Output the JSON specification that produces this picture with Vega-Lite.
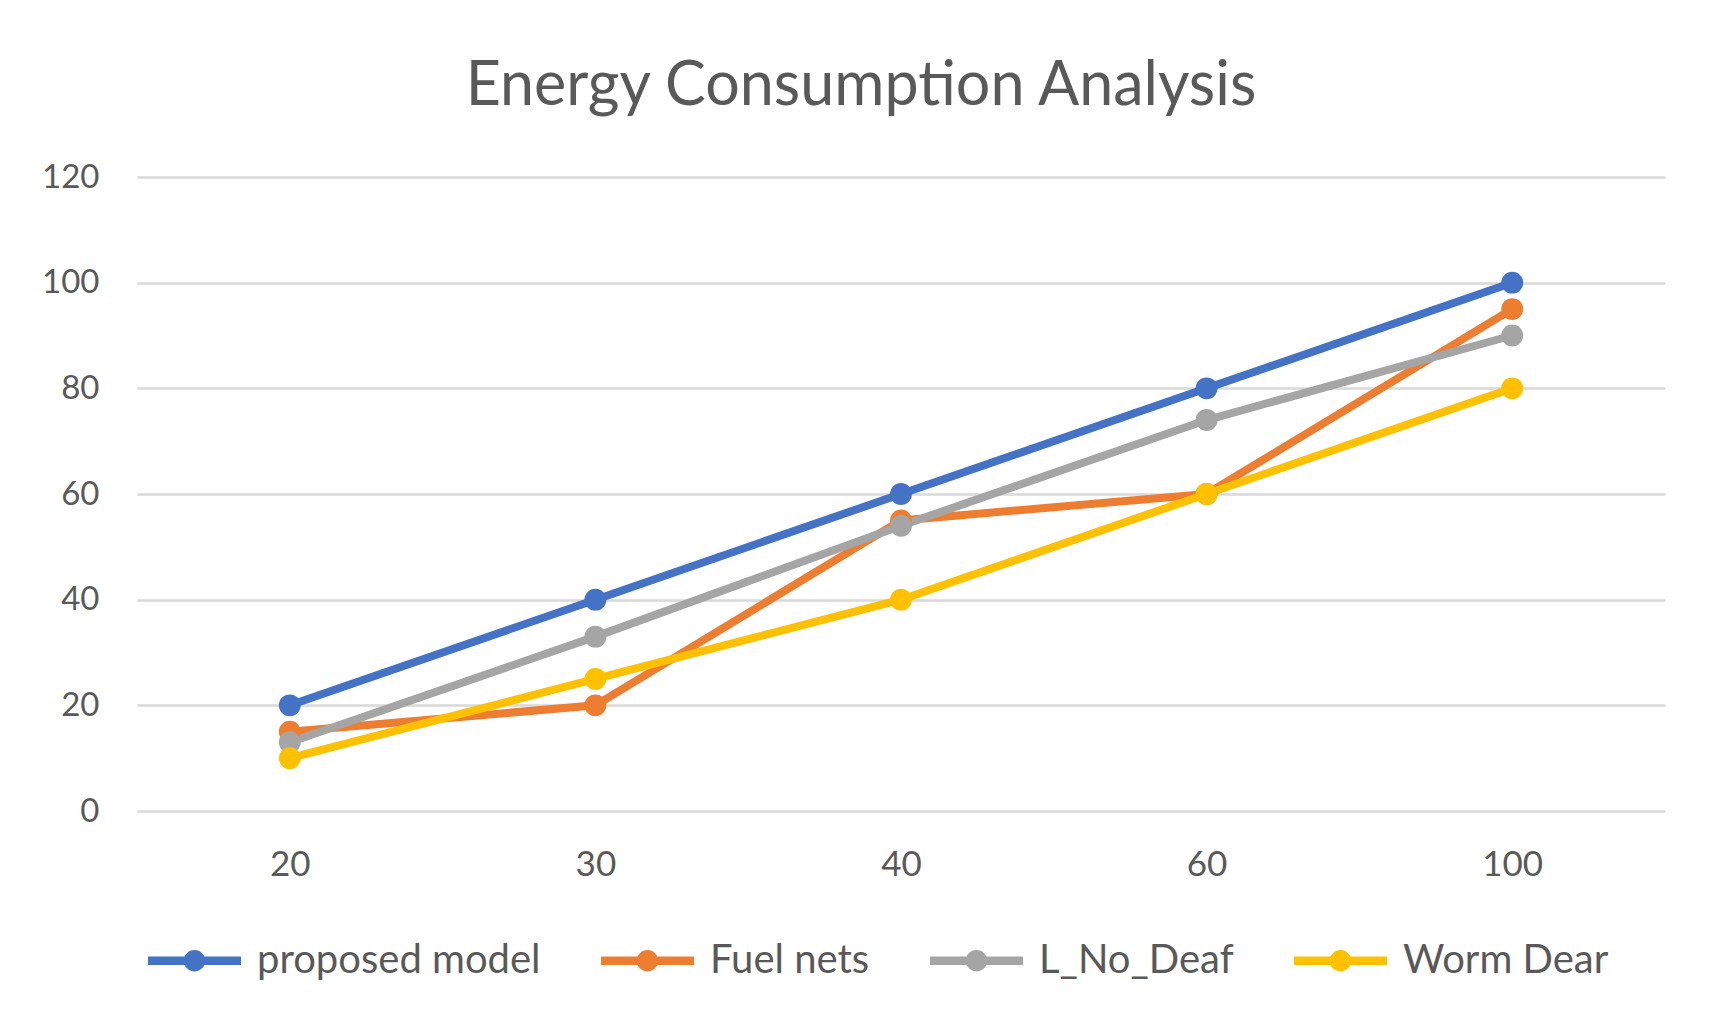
{
  "$schema": "https://vega.github.io/schema/vega-lite/v6.json",
  "autosize": {"type": "none"},
  "width": 1528,
  "height": 634,
  "padding": {"left": 137, "top": 177, "right": 51, "bottom": 220},
  "background": "white",
  "config": {
    "font": "Lato",
    "view": {"stroke": null},
    "axis": {"labelColor": "#595959", "labelFont": "Lato"},
    "legend": {"labelColor": "#595959", "labelFont": "Lato"}
  },
  "title": {
    "text": "Energy Consumption Analysis",
    "fontSize": 61,
    "font": "Lato",
    "fontWeight": "normal",
    "color": "#595959",
    "anchor": "middle",
    "dx": -40,
    "offset": 43
  },
  "data": {
    "values": [
      {"x": 20, "series": "proposed model", "v": 20},
      {"x": 30, "series": "proposed model", "v": 40},
      {"x": 40, "series": "proposed model", "v": 60},
      {"x": 60, "series": "proposed model", "v": 80},
      {"x": 100, "series": "proposed model", "v": 100},
      {"x": 20, "series": "Fuel nets", "v": 15},
      {"x": 30, "series": "Fuel nets", "v": 20},
      {"x": 40, "series": "Fuel nets", "v": 55},
      {"x": 60, "series": "Fuel nets", "v": 60},
      {"x": 100, "series": "Fuel nets", "v": 95},
      {"x": 20, "series": "L_No_Deaf", "v": 13},
      {"x": 30, "series": "L_No_Deaf", "v": 33},
      {"x": 40, "series": "L_No_Deaf", "v": 54},
      {"x": 60, "series": "L_No_Deaf", "v": 74},
      {"x": 100, "series": "L_No_Deaf", "v": 90},
      {"x": 20, "series": "Worm Dear", "v": 10},
      {"x": 30, "series": "Worm Dear", "v": 25},
      {"x": 40, "series": "Worm Dear", "v": 40},
      {"x": 60, "series": "Worm Dear", "v": 60},
      {"x": 100, "series": "Worm Dear", "v": 80}
    ]
  },
  "encoding": {
    "x": {
      "field": "x",
      "type": "ordinal",
      "sort": "ascending",
      "axis": {
        "title": null,
        "labelAngle": 0,
        "labelFontSize": 35,
        "labelPadding": 36,
        "domain": false,
        "ticks": false,
        "grid": false
      }
    },
    "y": {
      "field": "v",
      "type": "quantitative",
      "scale": {"domain": [0, 120], "nice": false},
      "axis": {
        "title": null,
        "values": [0, 20, 40, 60, 80, 100, 120],
        "labelFontSize": 33,
        "labelPadding": 38,
        "domain": false,
        "ticks": false,
        "grid": true,
        "gridColor": "#D9D9D9",
        "gridWidth": 2.5
      }
    },
    "color": {
      "field": "series",
      "type": "nominal",
      "scale": {
        "domain": ["proposed model", "Fuel nets", "L_No_Deaf", "Worm Dear"],
        "range": ["#4472C4", "#ED7D31", "#A5A5A5", "#FFC000"]
      },
      "legend": {
        "title": null,
        "orient": "none",
        "direction": "horizontal",
        "columns": 4,
        "legendX": 11,
        "legendY": 737,
        "labelFontSize": 40,
        "labelLimit": 0,
        "labelOffset": 16,
        "columnPadding": 60,
        "symbolType": "M-1,-0.09L1,-0.09L1,0.09L-1,0.09Z M0.23,0 A0.23,0.23 0 1,1 -0.23,0 A0.23,0.23 0 1,1 0.23,0Z",
        "symbolSize": 8649,
        "symbolStrokeWidth": 0,
        "encode": {
          "symbols": {"update": {"fill": {"scale": "color", "field": "value"}, "opacity": {"value": 1}}}
        }
      }
    }
  },
  "layer": [
    {"mark": {"type": "line", "strokeWidth": 8}},
    {"mark": {"type": "circle", "size": 480, "opacity": 1}}
  ]
}
